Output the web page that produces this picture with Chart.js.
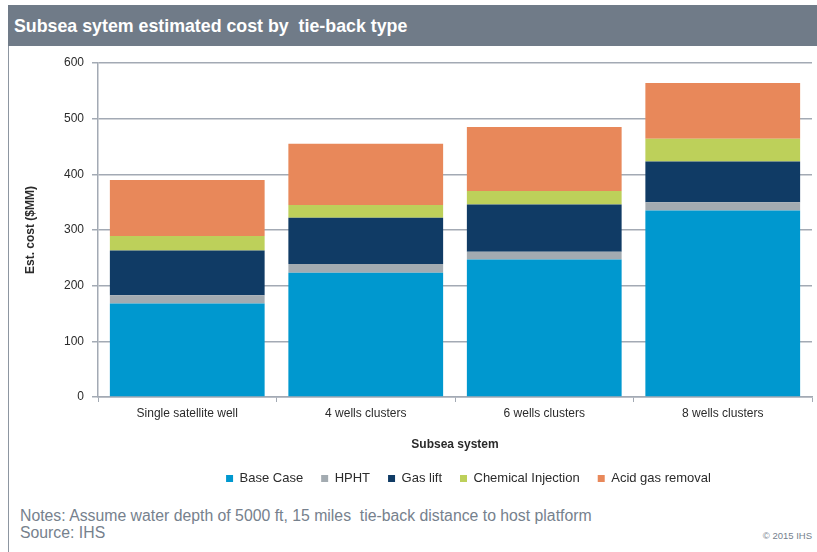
<!DOCTYPE html>
<html lang="en">
<head>
    <meta charset="UTF-8">
    <title>Subsea sytem estimated cost by tie-back type</title>
    <script src="https://cdn.jsdelivr.net/npm/chart.js"></script>
    <style>
        body {
            margin: 0;
            width: 817px;
            height: 552px;
            background: #ffffff;
            position: relative;
            overflow: hidden;
            font-family: "Liberation Sans", Arial, sans-serif;
        }
        .frame {
            position: absolute;
            left: 8px;
            top: 5px;
            width: 1px;
            height: 547px;
            background: #8d96a1;
        }
        .header {
            position: absolute;
            left: 8px;
            top: 5px;
            width: 809px;
            height: 41px;
            background: #707b88;
            color: #ffffff;
            font-family: "Liberation Sans Narrow", "Liberation Sans", Arial, sans-serif;
            font-weight: bold;
            font-size: 17.8px;
            line-height: 42px;
            padding-left: 6px;
            box-sizing: border-box;
        }
        .chart-box {
            position: absolute;
            left: 9px;
            top: 47px;
            width: 808px;
            height: 455px;
        }
        .notes {
            position: absolute;
            left: 20px;
            top: 507px;
            color: #76818d;
            font-size: 15.8px;
            line-height: 17px;
        }
        .copy {
            position: absolute;
            right: 5px;
            top: 530px;
            color: #76818d;
            font-size: 9.5px;
        }
    </style>
</head>
<body>
    <div class="frame"></div>
    <div class="header">Subsea sytem estimated cost by&nbsp; tie-back type</div>
    <div class="chart-box"><canvas id="costChart" width="808" height="455"></canvas></div>
    <div class="notes">Notes: Assume water depth of 5000 ft, 15 miles&nbsp; tie-back distance to host platform<br>Source: IHS</div>
    <div class="copy">&copy; 2015 IHS</div>
    <script>
        const categories = ['Single satellite well', '4 wells clusters', '6 wells clusters', '8 wells clusters'];
        const baseCase = [168, 223, 247, 335];
        const hpht = [15, 16, 14, 15];
        const gasLift = [80, 83, 85, 73];
        const chemInjection = [26, 23, 24, 41];
        const acidGasRemoval = [101, 110, 115, 100];
        const yTicks = [0, 100, 200, 300, 400, 500, 600];

        const axisColor = '#a3aab4';
        const textColor = '#2b2b2b';

        function makeSet(label, data, color) {
            return {
                label: label,
                data: data,
                backgroundColor: color,
                borderWidth: 0,
                barPercentage: 0.867,
                categoryPercentage: 1.0
            };
        }

        // the legend in the original sits a bit right of centre and a bit higher
        const legendShift = {
            id: 'legendShift',
            beforeDraw(chart) {
                const lg = chart.legend;
                if (!lg || lg._shifted) return;
                lg.left += 58;
                lg.right += 58;
                lg.top -= 7;
                lg.bottom -= 7;
                lg._shifted = true;
            }
        };

        const ctx = document.getElementById('costChart').getContext('2d');
        new Chart(ctx, {
            type: 'bar',
            data: {
                labels: categories,
                datasets: [
                    makeSet('Base Case', baseCase, '#0098cf'),
                    makeSet('HPHT', hpht, '#a3abb1'),
                    makeSet('Gas lift', gasLift, '#103b65'),
                    makeSet('Chemical Injection', chemInjection, '#bdd05a'),
                    makeSet('Acid gas removal', acidGasRemoval, '#e8885a')
                ]
            },
            plugins: [legendShift],
            options: {
                responsive: false,
                animation: false,
                layout: {
                    padding: { top: 16, right: 5, left: 0, bottom: 0 }
                },
                plugins: {
                    tooltip: { enabled: false },
                    legend: {
                        position: 'bottom',
                        labels: {
                            boxWidth: 7,
                            boxHeight: 7,
                            padding: 18,
                            color: textColor,
                            font: { family: 'Liberation Sans', size: 13 }
                        }
                    }
                },
                scales: {
                    x: {
                        stacked: true,
                        offset: true,
                        afterFit: (scale) => { scale.height = 64; },
                        grid: {
                            offset: true,
                            drawOnChartArea: false,
                            tickLength: 5,
                            color: axisColor,
                            lineWidth: 1
                        },
                        border: { color: axisColor, width: 1.5 },
                        ticks: {
                            color: textColor,
                            padding: 4,
                            font: { family: 'Liberation Sans', size: 12 }
                        },
                        title: {
                            display: true,
                            text: 'Subsea system',
                            color: textColor,
                            padding: { top: 4, bottom: 9 },
                            font: { family: 'Liberation Sans', size: 12, weight: 'bold' }
                        }
                    },
                    y: {
                        stacked: true,
                        min: 0,
                        max: 600,
                        afterFit: (scale) => { scale.width = 89; },
                        afterBuildTicks: (scale) => { scale.ticks = yTicks.map(v => ({ value: v })); },
                        grid: {
                            color: axisColor,
                            lineWidth: 1.5,
                            tickLength: 6
                        },
                        border: { color: axisColor, width: 1.5 },
                        ticks: {
                            color: textColor,
                            padding: 8,
                            font: { family: 'Liberation Sans', size: 12 }
                        },
                        title: {
                            display: true,
                            text: 'Est. cost ($MM)',
                            color: textColor,
                            padding: { top: 14, bottom: 0 },
                            font: { family: 'Liberation Sans', size: 12, weight: 'bold' }
                        }
                    }
                }
            }
        });
    </script>
</body>
</html>
